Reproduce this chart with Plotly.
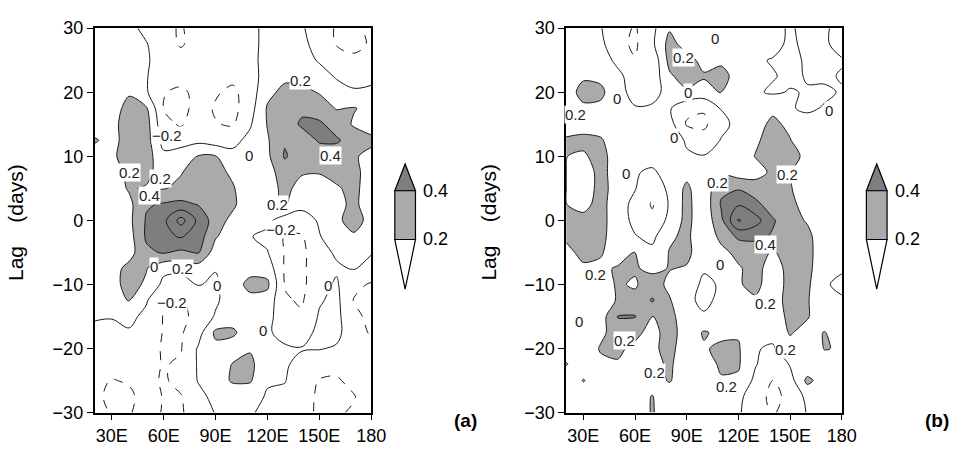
import plotly.graph_objects as go

# Longitude (deg E) and lag (days) grid of the lag-longitude correlation maps
lons = [20, 30, 40, 50, 60, 70, 80, 90, 100, 110, 120, 130, 140, 150, 160, 170, 180]
lags = [30, 27.5, 25, 22.5, 20, 17.5, 15, 12.5, 10, 7.5, 5, 2.5, 0,
        -2.5, -5, -7.5, -10, -12.5, -15, -17.5, -20, -22.5, -25, -27.5, -30]

# Panel (a) correlations, one row per lag (top row = lag +30)
corr_a = [
    [0.05, 0.08, 0.05, -0.05, -0.15, -0.22, -0.10, -0.05, -0.08, -0.05, 0.05, 0.08, 0.02, -0.10, -0.22, -0.24, -0.15],
    [0.02, 0.06, 0.08, 0.01, -0.12, -0.22, -0.12, -0.08, -0.10, -0.05, 0.05, 0.10, 0.05, -0.08, -0.21, -0.25, -0.18],
    [0.05, 0.08, 0.10, 0.02, -0.08, -0.12, -0.10, -0.08, -0.10, -0.05, 0.06, 0.12, 0.08, -0.02, -0.12, -0.16, -0.12],
    [0.08, 0.10, 0.12, 0.01, -0.10, -0.12, -0.10, -0.12, -0.15, -0.08, 0.08, 0.16, 0.15, 0.08, -0.02, -0.06, -0.04],
    [0.06, 0.10, 0.18, 0.02, -0.19, -0.24, -0.14, -0.18, -0.24, -0.10, 0.15, 0.25, 0.24, 0.19, 0.08, 0.02, 0.03],
    [0.08, 0.12, 0.26, 0.22, -0.21, -0.27, -0.12, -0.22, -0.26, -0.08, 0.22, 0.30, 0.36, 0.28, 0.19, 0.21, 0.15],
    [0.10, 0.15, 0.28, 0.28, -0.15, -0.22, -0.08, -0.19, -0.22, -0.02, 0.21, 0.30, 0.43, 0.44, 0.30, 0.18, 0.12],
    [0.22, 0.14, 0.28, 0.29, -0.08, -0.10, -0.05, -0.10, -0.05, 0.05, 0.18, 0.38, 0.30, 0.42, 0.43, 0.30, 0.24],
    [0.12, 0.16, 0.30, 0.29, 0.05, 0.12, 0.21, 0.21, 0.05, 0.02, 0.16, 0.42, 0.30, 0.30, 0.28, 0.22, 0.15],
    [0.10, 0.12, 0.24, 0.27, 0.08, 0.19, 0.28, 0.27, 0.16, 0.01, 0.12, 0.30, 0.22, 0.21, 0.26, 0.25, 0.12],
    [0.08, 0.10, 0.22, 0.18, 0.19, 0.24, 0.30, 0.30, 0.22, 0.05, 0.10, 0.26, 0.12, 0.12, 0.18, 0.25, 0.10],
    [0.06, 0.08, 0.15, 0.38, 0.42, 0.45, 0.39, 0.30, 0.24, 0.05, 0.15, 0.22, 0.05, 0.05, 0.15, 0.24, 0.10],
    [0.08, 0.10, 0.15, 0.42, 0.55, 0.88, 0.55, 0.30, 0.14, 0.02, 0.05, -0.10, -0.08, 0.02, 0.17, 0.26, 0.15],
    [0.05, 0.08, 0.12, 0.43, 0.55, 0.62, 0.50, 0.22, 0.08, 0.01, -0.05, -0.21, -0.22, -0.01, 0.10, 0.18, 0.08],
    [0.04, 0.06, 0.12, 0.36, 0.42, 0.36, 0.42, 0.10, 0.05, 0.05, 0.01, -0.21, -0.25, -0.05, 0.02, 0.06, 0.01],
    [0.05, 0.12, 0.26, 0.21, 0.05, 0.05, 0.10, 0.01, 0.08, 0.14, 0.12, -0.22, -0.25, -0.05, -0.02, 0.01, -0.05],
    [0.05, 0.13, 0.27, 0.17, -0.05, -0.08, 0.01, -0.03, 0.12, 0.25, 0.24, -0.21, -0.25, -0.05, 0.02, -0.15, -0.22],
    [0.08, 0.10, 0.21, 0.02, -0.22, -0.21, -0.10, -0.03, 0.10, 0.15, 0.12, -0.18, -0.22, -0.02, 0.05, -0.21, -0.25],
    [0.02, 0.01, 0.05, -0.05, -0.21, -0.24, -0.15, 0.02, 0.12, 0.10, 0.08, -0.15, -0.18, 0.02, 0.05, -0.15, -0.25],
    [-0.05, -0.05, -0.02, -0.10, -0.21, -0.22, -0.08, 0.24, 0.23, 0.10, 0.02, -0.05, -0.08, 0.05, 0.05, -0.12, -0.22],
    [-0.08, -0.10, -0.08, -0.12, -0.22, -0.21, 0.02, 0.15, 0.12, 0.18, 0.05, 0.02, 0.01, 0.01, -0.02, -0.12, -0.15],
    [-0.10, -0.12, -0.10, -0.15, -0.21, -0.18, 0.02, 0.10, 0.21, 0.25, 0.05, 0.02, -0.05, -0.12, -0.15, -0.08, -0.05],
    [-0.15, -0.21, -0.18, -0.15, -0.22, -0.15, 0.01, 0.12, 0.22, 0.22, 0.02, 0.01, -0.12, -0.21, -0.22, -0.15, -0.08],
    [-0.18, -0.22, -0.24, -0.12, -0.21, -0.21, -0.05, 0.05, 0.10, 0.08, -0.02, -0.05, -0.15, -0.22, -0.24, -0.21, -0.10],
    [-0.15, -0.21, -0.22, -0.10, -0.22, -0.22, -0.10, 0.01, 0.05, 0.02, -0.05, -0.10, -0.18, -0.21, -0.22, -0.18, -0.10],
]

# Panel (b) correlations, one row per lag (top row = lag +30)
corr_b = [
    [0.05, 0.08, 0.01, -0.12, -0.22, -0.05, 0.18, 0.05, 0.02, 0.05, 0.02, 0.01, 0.05, -0.02, 0.05, 0.02, -0.05],
    [0.08, 0.10, 0.05, -0.15, -0.23, -0.04, 0.27, 0.12, 0.05, 0.10, 0.08, 0.01, 0.05, -0.03, 0.04, 0.02, -0.05],
    [0.10, 0.12, 0.10, -0.05, -0.19, -0.15, 0.26, 0.27, 0.14, 0.16, 0.10, 0.02, -0.01, -0.02, 0.01, 0.05, 0.01],
    [0.15, 0.17, 0.15, 0.05, -0.10, -0.13, 0.17, 0.29, 0.22, 0.27, 0.12, 0.05, 0.01, -0.03, 0.01, 0.02, -0.01],
    [0.10, 0.27, 0.25, 0.05, -0.05, -0.05, 0.05, 0.17, 0.12, 0.21, 0.10, 0.02, -0.02, 0.01, -0.01, -0.02, 0.01],
    [0.10, 0.16, 0.15, 0.05, 0.01, 0.02, 0.02, -0.15, -0.18, 0.01, 0.12, 0.05, 0.15, 0.01, -0.02, 0.01, 0.01],
    [0.05, 0.10, 0.08, 0.01, 0.02, 0.05, 0.08, -0.22, -0.24, -0.05, 0.05, 0.12, 0.25, 0.15, 0.05, 0.05, 0.05],
    [0.24, 0.26, 0.23, 0.05, 0.02, 0.08, 0.10, -0.02, -0.12, 0.01, 0.05, 0.17, 0.28, 0.21, 0.05, 0.01, 0.02],
    [0.203, 0.17, 0.28, 0.08, 0.02, 0.05, 0.08, 0.02, 0.01, 0.05, 0.08, 0.21, 0.28, 0.27, 0.15, 0.02, 0.01],
    [0.202, 0.06, 0.28, 0.08, 0.01, -0.02, 0.05, 0.14, 0.10, 0.17, 0.10, 0.12, 0.24, 0.21, 0.05, 0.01, 0.01],
    [0.202, 0.06, 0.28, 0.10, 0.01, -0.15, 0.05, 0.24, 0.06, 0.36, 0.38, 0.30, 0.25, 0.22, 0.05, 0.01, 0.02],
    [0.203, 0.14, 0.27, 0.08, -0.05, -0.22, 0.02, 0.26, 0.06, 0.42, 0.58, 0.45, 0.30, 0.25, 0.12, 0.01, 0.01],
    [0.22, 0.26, 0.26, 0.10, -0.05, -0.15, 0.05, 0.26, 0.06, 0.35, 0.82, 0.68, 0.42, 0.28, 0.18, 0.05, 0.01],
    [0.23, 0.28, 0.24, 0.12, 0.01, -0.05, 0.17, 0.24, 0.06, 0.25, 0.44, 0.45, 0.38, 0.30, 0.26, 0.05, 0.01],
    [0.15, 0.25, 0.22, 0.10, 0.21, 0.05, 0.21, 0.26, 0.05, 0.15, 0.25, 0.28, 0.18, 0.28, 0.25, 0.10, 0.01],
    [0.05, 0.17, 0.16, 0.22, 0.22, 0.15, 0.21, 0.18, 0.01, 0.02, 0.18, 0.27, 0.10, 0.27, 0.26, 0.05, 0.01],
    [0.02, 0.10, 0.12, 0.22, 0.18, 0.30, 0.15, 0.05, -0.02, 0.01, 0.18, 0.26, 0.08, 0.27, 0.24, 0.01, -0.02],
    [0.05, 0.05, 0.08, 0.22, 0.25, 0.42, 0.22, 0.02, -0.02, 0.02, 0.15, 0.17, 0.10, 0.28, 0.22, 0.02, 0.01],
    [0.01, 0.02, 0.10, 0.41, 0.41, 0.19, 0.28, 0.05, 0.01, 0.10, 0.05, 0.01, 0.05, 0.27, 0.22, 0.05, 0.01],
    [0.01, 0.05, 0.15, 0.30, 0.26, 0.12, 0.30, 0.08, 0.22, 0.15, 0.18, 0.02, 0.05, 0.22, 0.12, 0.21, 0.08],
    [0.15, 0.05, 0.22, 0.24, 0.15, 0.15, 0.28, 0.05, 0.18, 0.24, 0.22, 0.01, -0.02, 0.12, 0.05, 0.21, 0.18],
    [0.21, 0.10, 0.15, 0.18, 0.05, 0.12, 0.24, 0.05, 0.05, 0.25, 0.22, 0.01, -0.10, 0.01, 0.05, 0.10, 0.08],
    [0.05, 0.21, 0.10, 0.05, 0.02, 0.10, 0.22, 0.05, 0.01, 0.17, 0.17, -0.05, -0.21, -0.08, 0.25, 0.10, 0.05],
    [0.12, 0.10, 0.05, 0.02, 0.10, 0.21, 0.05, 0.02, 0.01, 0.05, 0.05, -0.12, -0.25, -0.15, 0.05, 0.05, 0.02],
    [0.05, 0.08, 0.05, 0.01, 0.05, 0.22, 0.05, 0.02, 0.05, 0.05, 0.02, -0.10, -0.22, -0.12, 0.01, 0.02, 0.01],
]

# Contour labels: (lon, lag, text)
labels_a = [
    (139, 21.9, "0.2"), (62, 13.2, "\u22120.2"), (109.6, 10.2, "0"), (156.5, 10.2, "0.4"),
    (40, 7.4, "0.2"), (58.3, 6.6, "0.2"), (52, 3.9, "0.4"), (126, 2.4, "0.2"),
    (127.6, -1.5, "\u22120.2"), (54.5, -7.2, "0"), (70.7, -7.5, "0.2"), (90.6, -10.2, "0"),
    (155, -10.2, "0"), (65, -12.8, "\u22120.2"), (117.2, -17.2, "0"),
]
labels_b = [
    (88, 25.4, "0.2"), (25.7, 16.6, "0.2"), (148.6, 7.2, "0.2"), (108, 5.9, "0.2"),
    (49.5, 19, "0"), (82.9, 13, "0"), (55, 7.3, "0"), (91, 20, "0"), (106.7, 28.4, "0"),
    (172.4, 17.2, "0"), (37, -8.5, "0.2"), (53.7, -18.7, "0.2"), (71.4, -23.7, "0.2"),
    (27.4, -15.8, "0"), (136, -3.7, "0.4"), (109.5, -6.9, "0"), (136, -13, "0.2"),
    (147.6, -20.2, "0.2"), (113.3, -26, "0.2"),
]

x_ticks = [30, 60, 90, 120, 150, 180]
x_ticktext = ["30E", "60E", "90E", "120E", "150E", "180"]
y_ticks = [-30, -20, -10, 0, 10, 20, 30]
y_ticktext = ["\u221230", "\u221220", "\u221210", "0", "10", "20", "30"]
shade_levels = [0.2, 0.4]

W, H = 970, 457
FONT = "Liberation Sans, Arial, Helvetica, sans-serif"
LIGHT = "#aaaaaa"
DARK = "#7e7e7e"
LINE = "#1a1a1a"


def px(x):
    return x / W


def py(y):
    return 1 - y / H


lag_up = lags[::-1]
fig = go.Figure()

for corr, xa, ya in [(corr_a, "x", "y"), (corr_b, "x2", "y2")]:
    z = corr[::-1]
    common = dict(x=lons, y=lag_up, z=z, xaxis=xa, yaxis=ya, showscale=False,
                  hoverinfo="skip", showlegend=False)
    # shading: white below 0.2, light grey 0.2-0.4, dark grey above 0.4
    fig.add_trace(go.Contour(
        **common,
        autocontour=False,
        contours=dict(coloring="fill", start=shade_levels[0], end=shade_levels[1],
                      size=shade_levels[1] - shade_levels[0], showlines=True),
        colorscale=[[0, "white"], [0.5, LIGHT], [1, DARK]],
        line=dict(color=LINE, width=1, smoothing=0.8),
    ))
    # unshaded contour lines
    for lev, dash in [(0.6, "solid"), (0.8, "solid"), (0.0, "solid"), (-0.2, "dash")]:
        fig.add_trace(go.Contour(
            **common,
            contours=dict(type="constraint", operation="=", value=lev),
            line=dict(color=LINE, width=1, smoothing=1.0, dash=dash),
        ))

ann = []
for labs, xa, ya in [(labels_a, "x", "y"), (labels_b, "x2", "y2")]:
    for lo, la, t in labs:
        ann.append(dict(x=lo, y=la, xref=xa, yref=ya, text=t, showarrow=False,
                        bgcolor="white", borderpad=0,
                        font=dict(family=FONT, size=15, color="#222")))

# panel tags and axis titles
for xl, tag in [(473, "(a)"), (952, "(b)")]:
    ann.append(dict(x=px(xl), y=py(429), xref="paper", yref="paper", text="<b>%s</b>" % tag,
                    xanchor="center", yanchor="middle", showarrow=False,
                    font=dict(family=FONT, size=19, color="black")))
for xl in [16, 496]:
    ann.append(dict(x=px(xl), y=py(222), xref="paper", yref="paper",
                    text="Lag&nbsp;&nbsp;&nbsp;&nbsp;(days)",
                    xanchor="center", yanchor="middle",
                    textangle=-90, showarrow=False,
                    font=dict(family=FONT, size=21, color="black")))

# diamond-shaped key for the shading levels
shapes = []
for x0 in [401, 880]:
    x1 = x0 + 21
    xm = (x0 + x1) / 2
    top, r0, r1, bot = 161, 189, 240, 292
    shapes.append(dict(type="path", xref="paper", yref="paper",
                       path="M %f %f L %f %f L %f %f Z" % (px(x0), py(r0), px(x1), py(r0), px(xm), py(top)),
                       fillcolor=DARK, line=dict(color="black", width=1.2)))
    shapes.append(dict(type="rect", xref="paper", yref="paper",
                       x0=px(x0), x1=px(x1), y0=py(r1), y1=py(r0),
                       fillcolor=LIGHT, line=dict(color="black", width=1.2)))
    shapes.append(dict(type="path", xref="paper", yref="paper",
                       path="M %f %f L %f %f L %f %f Z" % (px(x0), py(r1), px(x1), py(r1), px(xm), py(bot)),
                       fillcolor="white", line=dict(color="black", width=1.2)))
    for lev, yy in zip(shade_levels, [r1, r0]):
        ann.append(dict(x=px(x1 + 6), y=py(yy), xref="paper", yref="paper", text="%.1f" % lev,
                        xanchor="left", yanchor="middle", showarrow=False,
                        font=dict(family=FONT, size=18, color="black")))

axis_common = dict(showgrid=False, zeroline=False, showline=True, mirror=True,
                   linecolor="black", linewidth=1.5, ticks="outside", ticklen=6,
                   tickwidth=1.2, tickcolor="black",
                   tickfont=dict(family=FONT, size=18, color="black"))
xcfg = dict(axis_common, range=[20, 180], tickvals=x_ticks, ticktext=x_ticktext)
ycfg = dict(axis_common, range=[-30, 30], tickvals=y_ticks, ticktext=y_ticktext)

fig.update_layout(
    width=W, height=H, autosize=False,
    margin=dict(l=0, r=0, t=0, b=0),
    paper_bgcolor="white", plot_bgcolor="white",
    xaxis=dict(xcfg, domain=[px(96), px(377)], anchor="y"),
    yaxis=dict(ycfg, domain=[py(421), py(19)], anchor="x"),
    xaxis2=dict(xcfg, domain=[px(575), px(855)], anchor="y2"),
    yaxis2=dict(ycfg, domain=[py(421), py(19)], anchor="x2"),
    annotations=ann,
    shapes=shapes,
)

fig.write_html("out.html")
